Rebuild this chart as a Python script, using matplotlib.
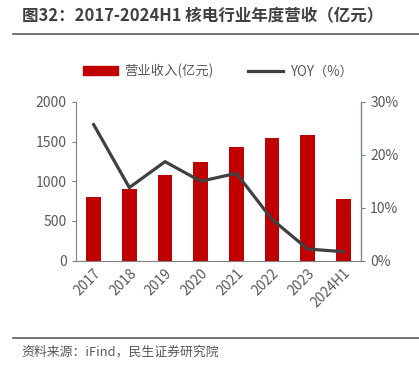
import numpy as np
import matplotlib.pyplot as plt
from matplotlib.lines import Line2D
from matplotlib.patches import Patch

plt.rcParams['font.family'] = ['Noto Sans CJK SC', 'DejaVu Sans']

years = ['2017', '2018', '2019', '2020', '2021', '2022', '2023', '2024H1']
revenue = [797, 906, 1078, 1238, 1434, 1547, 1581, 776]
yoy = [25.7, 13.8, 18.7, 15.0, 16.5, 7.8, 2.2, 1.7]

fig = plt.figure(figsize=(4.19, 3.80), dpi=100)
ax = fig.add_axes([0.181, 0.314, 0.681, 0.418])
ax2 = ax.twinx()

x = np.arange(len(years))
ax.bar(x, revenue, width=0.42, color='#C00000', zorder=2)
ax2.plot(x, yoy, color='#404040', linewidth=2.3, zorder=3)

ax.set_xlim(-0.5, 7.5)
ax.set_ylim(0, 2000)
ax.set_yticks([0, 500, 1000, 1500, 2000])
ax2.set_ylim(0, 30)
ax2.set_yticks([0, 10, 20, 30])
ax2.set_yticklabels(['0%', '10%', '20%', '30%'])

ax.set_xticks(x)
ax.set_xticklabels(years, rotation=45, ha='right', rotation_mode='anchor')

for a in (ax, ax2):
    a.spines['top'].set_visible(False)
    a.tick_params(labelsize=10, labelcolor='#595959', length=3)
ax.spines['left'].set_color('#808080')
ax.spines['bottom'].set_color('#808080')
ax2.spines['right'].set_color('#6F7F96')
ax2.spines['left'].set_visible(False)
ax2.spines['bottom'].set_visible(False)
ax.tick_params(axis='y', colors='#808080', labelcolor='#595959')
ax.tick_params(axis='x', length=0, pad=4)
ax2.tick_params(axis='y', colors='#6F7F96', labelcolor='#595959')

# Legend
handles = [Patch(color='#C00000'), Line2D([0], [0], color='#404040', linewidth=2.3)]
fig.legend(handles, ['营业收入(亿元)', 'YOY（%）'], loc='center', bbox_to_anchor=(0.52, 0.813),
           ncol=2, frameon=False, fontsize=9.6, labelcolor='#595959',
           handlelength=2.6, handleheight=0.6, columnspacing=2.6, handletextpad=0.5)

# Title and source
fig.text(0.052, 0.958, '图32：2017-2024H1 核电行业年度营收（亿元）', fontsize=11.9,
         fontweight='bold', color='#404040', va='center')
fig.add_artist(Line2D([0.031, 1.0], [0.910, 0.910], color='#595959', linewidth=1.2))
fig.add_artist(Line2D([0.031, 1.0], [0.110, 0.110], color='#595959', linewidth=1.2))
fig.text(0.052, 0.074, '资料来源：iFind，民生证券研究院', fontsize=9.3, color='#595959', va='center')

fig.savefig('out.png', dpi=100)
